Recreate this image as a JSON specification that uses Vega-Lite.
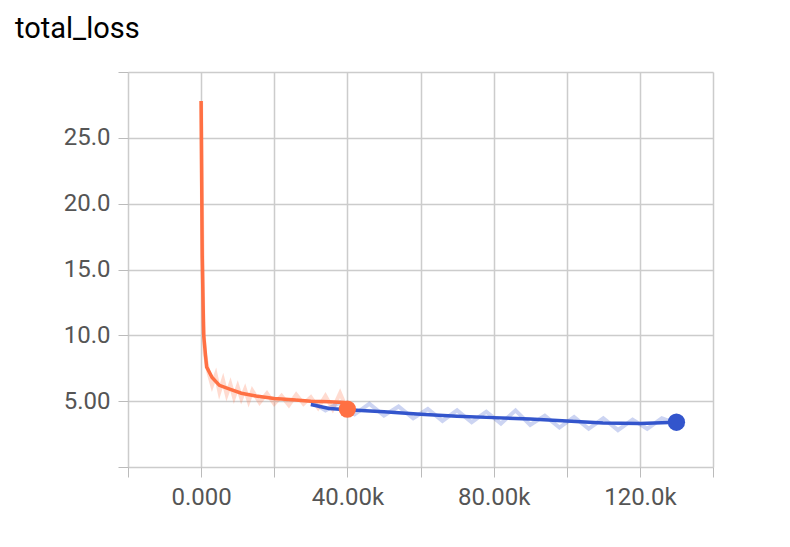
{
  "$schema": "https://vega.github.io/schema/vega-lite/v6.json",
  "width": 585,
  "height": 395,
  "autosize": "none",
  "padding": {"left": 128, "top": 72, "right": 77, "bottom": 80},
  "background": "white",
  "title": {"text": "total_loss", "anchor": "start", "frame": "group", "dx": -113, "offset": 28, "fontSize": 29, "font": "Roboto", "fontWeight": "normal", "color": "#000"},
  "config": {"view": {"stroke": null}, "font": "Roboto"},
  "data": {"values": [
    {"s": "a", "k": "raw", "x": 0, "y": 27.8},
    {"s": "a", "k": "raw", "x": 300, "y": 18},
    {"s": "a", "k": "raw", "x": 600, "y": 11},
    {"s": "a", "k": "raw", "x": 1000, "y": 8.6},
    {"s": "a", "k": "raw", "x": 2000, "y": 7.2},
    {"s": "a", "k": "raw", "x": 3000, "y": 6.2},
    {"s": "a", "k": "raw", "x": 4000, "y": 7.0},
    {"s": "a", "k": "raw", "x": 5000, "y": 5.7},
    {"s": "a", "k": "raw", "x": 6000, "y": 6.6},
    {"s": "a", "k": "raw", "x": 7000, "y": 5.5},
    {"s": "a", "k": "raw", "x": 8000, "y": 6.3},
    {"s": "a", "k": "raw", "x": 9000, "y": 5.3},
    {"s": "a", "k": "raw", "x": 10000, "y": 6.1},
    {"s": "a", "k": "raw", "x": 11000, "y": 5.2},
    {"s": "a", "k": "raw", "x": 12000, "y": 5.9},
    {"s": "a", "k": "raw", "x": 13000, "y": 5.0},
    {"s": "a", "k": "raw", "x": 14000, "y": 5.8},
    {"s": "a", "k": "raw", "x": 16000, "y": 4.9},
    {"s": "a", "k": "raw", "x": 18000, "y": 5.6},
    {"s": "a", "k": "raw", "x": 20000, "y": 4.8},
    {"s": "a", "k": "raw", "x": 22000, "y": 5.4},
    {"s": "a", "k": "raw", "x": 24000, "y": 4.7},
    {"s": "a", "k": "raw", "x": 26000, "y": 5.5},
    {"s": "a", "k": "raw", "x": 28000, "y": 4.8},
    {"s": "a", "k": "raw", "x": 30000, "y": 5.3},
    {"s": "a", "k": "raw", "x": 32000, "y": 4.5},
    {"s": "a", "k": "raw", "x": 34000, "y": 5.4},
    {"s": "a", "k": "raw", "x": 36000, "y": 4.4},
    {"s": "a", "k": "raw", "x": 38000, "y": 5.6},
    {"s": "a", "k": "raw", "x": 40000, "y": 4.3},
    {"s": "a", "k": "sm", "x": 0, "y": 27.8},
    {"s": "a", "k": "sm", "x": 300, "y": 16},
    {"s": "a", "k": "sm", "x": 700, "y": 10},
    {"s": "a", "k": "sm", "x": 1500, "y": 7.6},
    {"s": "a", "k": "sm", "x": 3000, "y": 6.8},
    {"s": "a", "k": "sm", "x": 5000, "y": 6.2},
    {"s": "a", "k": "sm", "x": 8000, "y": 5.9},
    {"s": "a", "k": "sm", "x": 11000, "y": 5.6},
    {"s": "a", "k": "sm", "x": 15000, "y": 5.4},
    {"s": "a", "k": "sm", "x": 20000, "y": 5.2},
    {"s": "a", "k": "sm", "x": 25000, "y": 5.1},
    {"s": "a", "k": "sm", "x": 30000, "y": 5.0},
    {"s": "a", "k": "sm", "x": 35000, "y": 4.95},
    {"s": "a", "k": "sm", "x": 39000, "y": 4.9},
    {"s": "a", "k": "sm", "x": 40000, "y": 4.4},
    {"s": "b", "k": "raw", "x": 30000, "y": 5.0},
    {"s": "b", "k": "raw", "x": 34000, "y": 4.3},
    {"s": "b", "k": "raw", "x": 38000, "y": 4.9},
    {"s": "b", "k": "raw", "x": 42000, "y": 4.0},
    {"s": "b", "k": "raw", "x": 46000, "y": 4.8},
    {"s": "b", "k": "raw", "x": 50000, "y": 3.9},
    {"s": "b", "k": "raw", "x": 54000, "y": 4.6},
    {"s": "b", "k": "raw", "x": 58000, "y": 3.7},
    {"s": "b", "k": "raw", "x": 62000, "y": 4.4},
    {"s": "b", "k": "raw", "x": 66000, "y": 3.5},
    {"s": "b", "k": "raw", "x": 70000, "y": 4.3},
    {"s": "b", "k": "raw", "x": 74000, "y": 3.4},
    {"s": "b", "k": "raw", "x": 78000, "y": 4.2},
    {"s": "b", "k": "raw", "x": 82000, "y": 3.3},
    {"s": "b", "k": "raw", "x": 86000, "y": 4.3},
    {"s": "b", "k": "raw", "x": 90000, "y": 3.2},
    {"s": "b", "k": "raw", "x": 94000, "y": 3.9},
    {"s": "b", "k": "raw", "x": 98000, "y": 3.0},
    {"s": "b", "k": "raw", "x": 102000, "y": 3.8},
    {"s": "b", "k": "raw", "x": 106000, "y": 2.9},
    {"s": "b", "k": "raw", "x": 110000, "y": 3.7},
    {"s": "b", "k": "raw", "x": 114000, "y": 2.8},
    {"s": "b", "k": "raw", "x": 118000, "y": 3.6},
    {"s": "b", "k": "raw", "x": 122000, "y": 2.9},
    {"s": "b", "k": "raw", "x": 126000, "y": 3.7},
    {"s": "b", "k": "raw", "x": 130000, "y": 3.3},
    {"s": "b", "k": "sm", "x": 30000, "y": 4.75},
    {"s": "b", "k": "sm", "x": 35000, "y": 4.45},
    {"s": "b", "k": "sm", "x": 40000, "y": 4.35},
    {"s": "b", "k": "sm", "x": 50000, "y": 4.2},
    {"s": "b", "k": "sm", "x": 60000, "y": 4.0},
    {"s": "b", "k": "sm", "x": 70000, "y": 3.85},
    {"s": "b", "k": "sm", "x": 80000, "y": 3.75},
    {"s": "b", "k": "sm", "x": 90000, "y": 3.65},
    {"s": "b", "k": "sm", "x": 100000, "y": 3.5},
    {"s": "b", "k": "sm", "x": 110000, "y": 3.35},
    {"s": "b", "k": "sm", "x": 120000, "y": 3.3},
    {"s": "b", "k": "sm", "x": 130000, "y": 3.4}
  ]},
  "encoding": {
    "x": {"field": "x", "type": "quantitative", "scale": {"domain": [-20000, 140000], "nice": false},
      "axis": {"title": null, "values": [-20000, 0, 20000, 40000, 60000, 80000, 100000, 120000, 140000],
        "labelExpr": "datum.value == 0 ? '0.000' : datum.value == 40000 ? '40.00k' : datum.value == 80000 ? '80.00k' : datum.value == 120000 ? '120.0k' : ''",
        "labelFontSize": 24, "labelColor": "#555", "labelPadding": 8, "tickSize": 10, "tickColor": "#bbb", "domain": false, "gridColor": "#ccc", "gridWidth": 1.5}},
    "y": {"field": "y", "type": "quantitative", "scale": {"domain": [0, 30], "nice": false},
      "axis": {"title": null, "values": [0, 5, 10, 15, 20, 25, 30],
        "labelExpr": "datum.value == 5 ? '5.00' : (datum.value == 0 || datum.value == 30) ? '' : format(datum.value, '.1f')",
        "labelFontSize": 24, "labelColor": "#555", "labelPadding": 8, "tickSize": 10, "tickColor": "#bbb", "domain": false, "gridColor": "#ccc", "gridWidth": 1.5}}
  },
  "layer": [
    {"transform": [{"filter": "datum.k == 'raw'"}],
     "mark": {"type": "line", "strokeWidth": 4, "opacity": 0.25},
     "encoding": {"detail": {"field": "s"}, "color": {"field": "s", "scale": {"domain": ["a", "b"], "range": ["#ff7043", "#3355cc"]}, "legend": null}}},
    {"transform": [{"filter": "datum.k == 'sm'"}],
     "mark": {"type": "line", "strokeWidth": 3.5},
     "encoding": {"color": {"field": "s", "legend": null}}},
    {"transform": [{"filter": "datum.k == 'sm' && (datum.x == 40000 && datum.s == 'a' || datum.x == 130000)"}],
     "mark": {"type": "circle", "size": 300, "opacity": 1},
     "encoding": {"color": {"field": "s", "legend": null}}}
  ]
}
